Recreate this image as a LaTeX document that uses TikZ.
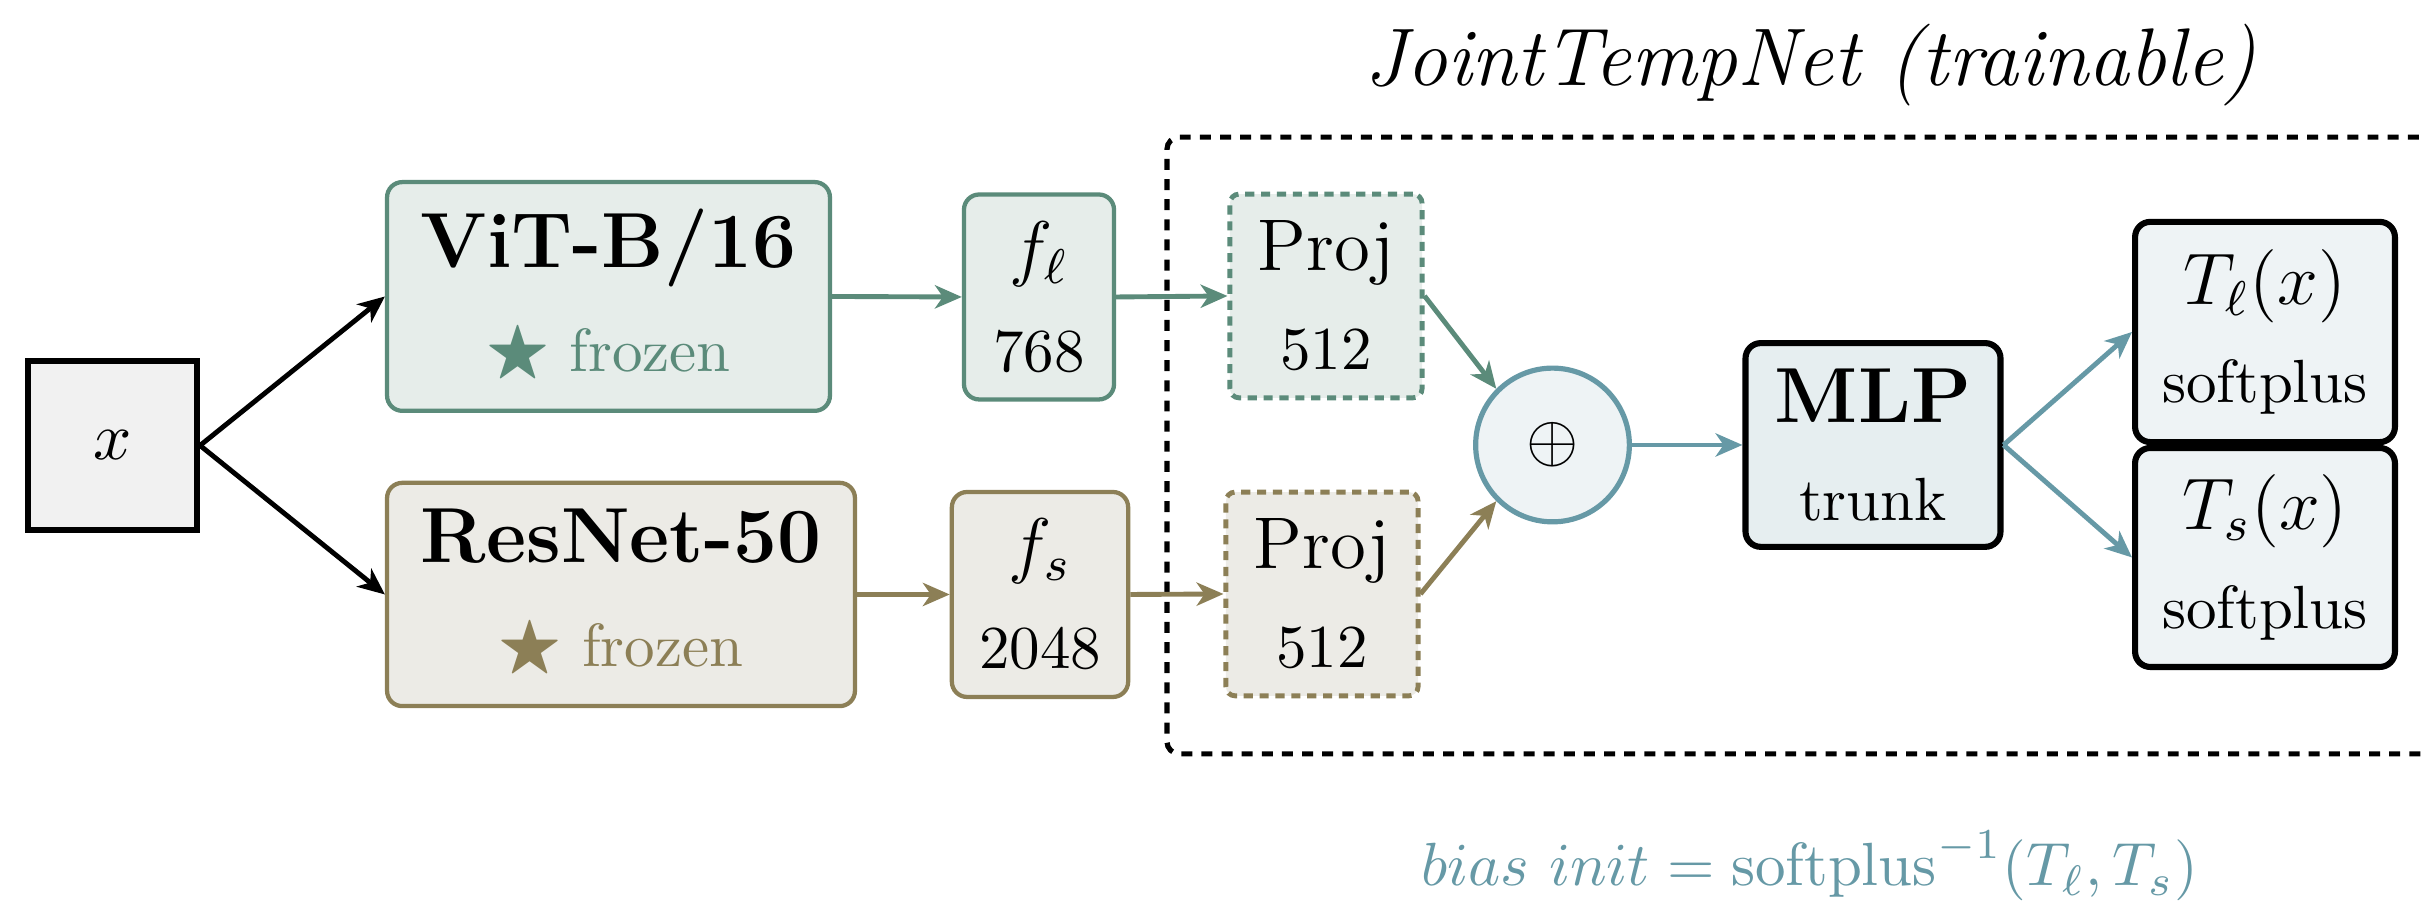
\RequirePackage{fix-cm}
\documentclass[tikz,border=0pt]{standalone}
\usepackage{amssymb}
\usetikzlibrary{arrows.meta}

\definecolor{vitline}{HTML}{5B8B7A}
\definecolor{vitfill}{HTML}{E6EDEA}
\definecolor{resline}{HTML}{8C7F56}
\definecolor{resfill}{HTML}{ECEBE6}
\definecolor{headline}{HTML}{6699A6}
\definecolor{headfill}{HTML}{EEF3F5}
\definecolor{mlpfill}{HTML}{E6EEF0}
\definecolor{inputfill}{HTML}{F1F1F1}

\newcommand\bigtxt{\fontsize{12}{17}\selectfont}
\newcommand\boldtxt{\fontsize{12.8}{17}\selectfont\bfseries}
\newcommand\frozenstar{{\fontsize{10.95}{17}\selectfont$\bigstar$}}

\tikzset{
  blk/.style={draw, rounded corners=2.5pt, line width=0.7pt, align=center,
    inner sep=0pt, font=\fontsize{10}{16.2}\selectfont},
  vitblk/.style={blk, draw=vitline, fill=vitfill},
  resblk/.style={blk, draw=resline, fill=resfill},
  projblk/.style={blk, line width=0.8pt, rounded corners=1.5pt, dash pattern=on 1.5pt off 1.1pt},
  headblk/.style={blk, draw=black, line width=1pt},
  conn/.style={line width=0.8pt, -{Stealth[length=4.4pt, width=3.8pt, inset=1.3pt]}},
}

\begin{document}
\begin{tikzpicture}[x=0.16393pt, y=-0.16393pt]
  \clip (0,0) rectangle (2427,901);

  % trainable part, cut at the right edge
  \node[draw, line width=0.85pt, dash pattern=on 1.8pt off 1.5pt, rounded corners=2pt,
        minimum width=210.5pt, minimum height=101.1pt, inner sep=0pt] (joint) at (1809,445.5) {};
  \node[anchor=base, font=\fontsize{13.4}{16}\selectfont\itshape] (jtitle) at (1810,86)
        {JointTempNet (trainable)};

  % input
  \node[draw, line width=1pt, fill=inputfill, minimum width=27.7pt, minimum height=27.7pt,
        inner sep=0pt, font=\fontsize{11}{13}\selectfont] (xin) at (112.5,445.5) {$x$};

  % frozen backbones
  \node[vitblk, minimum width=72.6pt, minimum height=37.5pt, font=\fontsize{10}{17}\selectfont]
        (vit) at (608.5,296.5)
        {{\boldtxt ViT-B/16}\\{\color{vitline}\frozenstar{} frozen}};
  \node[resblk, minimum width=76.7pt, minimum height=36.6pt, font=\fontsize{10}{17}\selectfont]
        (res) at (621,594.5)
        {{\boldtxt ResNet-50}\\{\color{resline}\frozenstar{} frozen}};

  % features
  \node[vitblk, minimum width=24.6pt, minimum height=33.6pt] (fl) at (1039,297)
        {{\bigtxt $f_\ell$}\\768};
  \node[resblk, minimum width=28.9pt, minimum height=33.6pt] (fs) at (1040,594.5)
        {{\bigtxt $f_s$}\\2048};

  % projections
  \node[projblk, draw=vitline, fill=vitfill, minimum width=31.5pt, minimum height=33.4pt]
        (p1) at (1326,296) {{\bigtxt Proj}\\512};
  \node[projblk, draw=resline, fill=resfill, minimum width=31.5pt, minimum height=33.4pt]
        (p2) at (1322,594) {{\bigtxt Proj}\\512};

  % fusion
  \node[circle, draw=headline, fill=headfill, line width=0.85pt, minimum size=25.2pt,
        inner sep=0pt, font=\fontsize{11}{13}\selectfont] (plus) at (1552.5,445) {$\oplus$};

  % trunk and heads
  \node[headblk, fill=mlpfill, minimum width=41.8pt, minimum height=33.4pt] (mlp) at (1873,445)
        {{\boldtxt MLP}\\trunk};
  \node[headblk, fill=headfill, minimum width=42.6pt, minimum height=36.1pt] (tl) at (2265,332)
        {{\bigtxt $T_\ell(x)$}\\softplus};
  \node[headblk, fill=headfill, minimum width=42.6pt, minimum height=35.9pt] (ts) at (2265,557.5)
        {{\bigtxt $T_s(x)$}\\softplus};

  \node[anchor=base, text=headline, font=\fontsize{10}{12}\selectfont] (binit) at (1809.5,886)
        {$bias\ init = \mathrm{softplus}^{-1}(T_\ell, T_s)$};

  % connectors
  \draw[conn] (xin.east) -- (vit.west);
  \draw[conn] (xin.east) -- (res.west);
  \draw[conn, vitline] (vit.east) -- (fl.west);
  \draw[conn, vitline] (fl.east) -- (p1.west);
  \draw[conn, resline] (res.east) -- (fs.west);
  \draw[conn, resline] (fs.east) -- (p2.west);
  \draw[conn, vitline] (p1.east) -- (plus.north west);
  \draw[conn, resline] (p2.east) -- (plus.south west);
  \draw[conn, headline] (plus.east) -- (mlp.west);
  \draw[conn, headline] (mlp.east) -- (tl.west);
  \draw[conn, headline] (mlp.east) -- (ts.west);
\end{tikzpicture}
\end{document}
